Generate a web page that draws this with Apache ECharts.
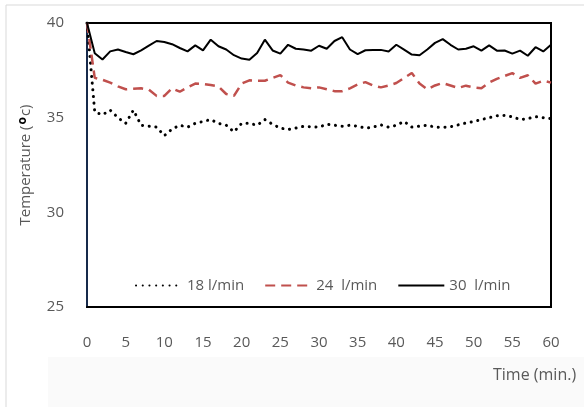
<!DOCTYPE html>
<html>
<head>
<meta charset="utf-8">
<script src="https://cdn.jsdelivr.net/npm/echarts@6/dist/echarts.min.js"></script>
<style>
html,body{margin:0;padding:0;background:#fff;}
#chart{width:584px;height:407px;}
</style>
</head>
<body>
<div id="chart"></div>
<script>
var times = [0,1,2,3,4,5,6,7,8,9,10,11,12,13,14,15,16,17,18,19,20,21,22,23,24,25,26,27,28,29,30,
  31,32,33,34,35,36,37,38,39,40,41,42,43,44,45,46,47,48,49,50,51,52,53,54,55,56,57,58,59,60];
var xTicks = [0,5,10,15,20,25,30,35,40,45,50,55,60];
var yTicks = [25,30,35,40];
var seriesNames = ['18 l/min', '24  l/min', '30  l/min'];

var flow18 = [40,35.3,35.15,35.4,35.0,34.7,35.4,34.6,34.55,34.5,34.05,34.4,34.6,34.5,34.7,34.8,34.9,34.7,34.6,34.25,
  34.7,34.7,34.6,34.9,34.65,34.45,34.37,34.45,34.54,34.52,34.5,34.65,34.6,34.55,34.6,34.55,34.45,34.5,34.62,34.5,
  34.6,34.8,34.5,34.55,34.6,34.5,34.49,34.52,34.62,34.72,34.8,34.9,35.0,35.1,35.12,35.05,34.9,34.95,35.05,35.0,34.95];
var flow24 = [40,37.1,37.0,36.85,36.65,36.5,36.53,36.55,36.48,36.15,36.15,36.55,36.37,36.6,36.8,36.78,36.72,36.65,36.25,36.15,
  36.8,36.97,36.95,36.95,37.1,37.25,36.85,36.7,36.6,36.55,36.6,36.5,36.4,36.4,36.55,36.75,36.88,36.7,36.6,36.7,
  36.83,37.1,37.36,36.8,36.5,36.7,36.83,36.7,36.57,36.69,36.6,36.55,36.85,37.05,37.2,37.35,37.1,37.24,36.8,36.95,36.85];
var flow30 = [40,38.4,38.07,38.5,38.6,38.47,38.35,38.55,38.8,39.05,39.0,38.88,38.68,38.5,38.82,38.55,39.12,38.77,38.6,38.3,
  38.12,38.06,38.42,39.12,38.55,38.38,38.85,38.64,38.6,38.54,38.8,38.64,39.05,39.25,38.6,38.36,38.56,38.58,38.58,38.5,
  38.85,38.59,38.33,38.3,38.6,38.95,39.15,38.85,38.6,38.64,38.77,38.54,38.82,38.54,38.55,38.38,38.54,38.27,38.72,38.5,38.85];

function pairs(vals){ return times.map(function(t,i){ return [t, vals[i]]; }); }

var FONT = 'Open Sans';
var GRAY = '#595959';
var chart = echarts.init(document.getElementById('chart'), null, {renderer:'canvas'});
chart.setOption({
  animation: false,
  backgroundColor: '#ffffff',
  textStyle: {fontFamily: FONT},
  graphic: [
    {type:'rect', shape:{x:48, y:357, width:536, height:50}, style:{fill:'#fafafa'}, z:-10},
    {type:'line', shape:{x1:6, y1:5, x2:584, y2:5}, style:{stroke:'#d9d9d9', lineWidth:1}},
    {type:'line', shape:{x1:6, y1:5, x2:6, y2:407}, style:{stroke:'#d9d9d9', lineWidth:1}}
  ],
  title: {
    text: 'Time (min.)', left: 488, top: 362,
    textStyle: {fontFamily: FONT, fontSize: 16, fontWeight: 'normal', color: GRAY}
  },
  legend: {
    left: 130, top: 273,
    itemWidth: 46, itemHeight: 14, itemGap: 20,
    itemStyle: {opacity: 0},
    textStyle: {fontFamily: FONT, fontSize: 15, color: GRAY},
    data: seriesNames
  },
  grid: {left: 87, right: 33, top: 23, bottom: 100, show: true, borderColor: '#000', borderWidth: 2, backgroundColor: 'transparent'},
  xAxis: {
    type: 'value', min: xTicks[0], max: xTicks[xTicks.length-1], interval: xTicks[1]-xTicks[0],
    axisLine: {show: true, lineStyle: {color: '#000', width: 2}},
    axisTick: {show: false}, splitLine: {show: false},
    axisLabel: {margin: 28, fontSize: 15, color: GRAY, fontFamily: FONT}
  },
  yAxis: {
    type: 'value', min: yTicks[0], max: yTicks[yTicks.length-1], interval: yTicks[1]-yTicks[0],
    name: 'Temperature ({b|o}c)', nameLocation: 'middle', nameGap: 52,
    nameTextStyle: {fontSize: 15, color: GRAY, fontFamily: FONT,
      rich: {b: {fontSize: 12, fontWeight: 'bold', color: '#000', verticalAlign: 'top', padding:[0,1,6,1]}}},
    axisLine: {show: true, lineStyle: {color: '#1f3864', width: 1.5}},
    axisTick: {show: false}, splitLine: {show: false},
    axisLabel: {margin: 23, fontSize: 15, color: GRAY, fontFamily: FONT}
  },
  series: [
    {name: seriesNames[0], type: 'line', data: pairs(flow18), symbol: 'none',
     lineStyle: {color: '#000', width: 3, type: [0.1, 6.6], cap: 'round'}, itemStyle: {color: '#000'}},
    {name: seriesNames[1], type: 'line', data: pairs(flow24), symbol: 'none',
     lineStyle: {color: '#c0504d', width: 2.5, type: [10, 6]}, itemStyle: {color: '#c0504d'}},
    {name: seriesNames[2], type: 'line', data: pairs(flow30), symbol: 'none',
     lineStyle: {color: '#000', width: 2}, itemStyle: {color: '#000'}}
  ]
});
</script>
</body>
</html>
